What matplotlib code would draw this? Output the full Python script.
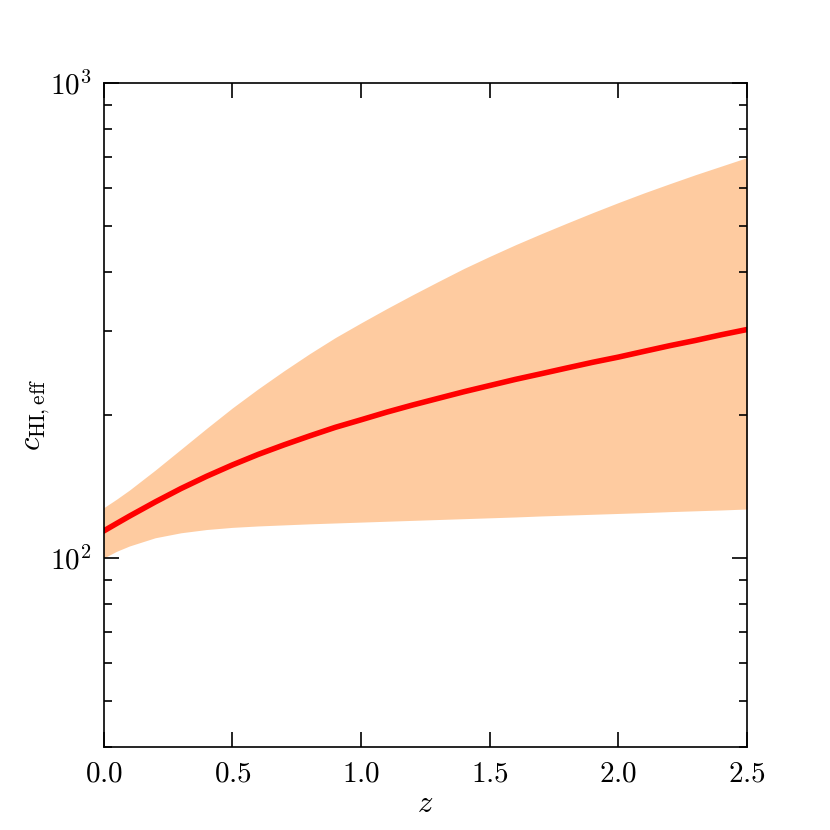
import numpy as np
import matplotlib
matplotlib.use("Agg")
import matplotlib.pyplot as plt
from matplotlib.ticker import FixedLocator, FixedFormatter, NullFormatter, LogLocator, FormatStrFormatter

plt.rcParams['mathtext.fontset'] = 'cm'
plt.rcParams['font.family'] = 'serif'
plt.rcParams['font.serif'] = ['DejaVu Serif']

z = [0.0, 0.05, 0.1, 0.2, 0.3, 0.4, 0.5, 0.6, 0.7, 0.8, 0.9, 1.0, 1.1, 1.2,
     1.3, 1.4, 1.5, 1.6, 1.7, 1.8, 1.9, 2.0, 2.1, 2.2, 2.3, 2.4, 2.5]

c_mid = [114.0, 118.2, 122.5, 131.2, 140.0, 148.6, 157.0, 165.2, 173.0, 180.7, 188.4,
         195.4, 202.8, 209.9, 216.8, 223.9, 230.7, 237.7, 244.3, 251.2, 258.2,
         264.8, 272.3, 279.9, 287.1, 295.1, 302.7]

c_upper = [127.6, 133.0, 139.0, 153.1, 169.4, 187.5, 207.0, 227.0, 247.7, 269.2, 291.1,
           312.6, 335.0, 358.1, 382.0, 407.0, 431.5, 456.5, 481.5, 507.0, 533.3,
           560.0, 587.0, 613.8, 641.2, 668.3, 696.6]

c_lower = [100.0, 103.3, 106.0, 110.3, 113.0, 114.8, 116.0, 116.8, 117.4, 118.0, 118.5,
           119.0, 119.5, 120.0, 120.5, 121.0, 121.5, 122.0, 122.6, 123.1, 123.6,
           124.1, 124.6, 125.2, 125.7, 126.2, 126.8]

x_ticks = [0.0, 0.5, 1.0, 1.5, 2.0, 2.5]
y_major = [100, 1000]
y_major_labels = [r'$10^2$', r'$10^3$']

fig = plt.figure(figsize=(8.3, 8.3), dpi=100)
ax = fig.add_axes([0.125, 0.1, 0.775, 0.8])

ax.fill_between(z, c_lower, c_upper, color='#FECBA0', linewidth=0)
ax.plot(z, c_mid, color='red', linewidth=4)

ax.set_yscale('log')
ax.set_xlim(0, 2.5)
ax.set_ylim(40, 1000)

ax.xaxis.set_major_locator(FixedLocator(x_ticks))
ax.xaxis.set_major_formatter(FormatStrFormatter(r'$%.1f$'))
ax.yaxis.set_major_locator(FixedLocator(y_major))
ax.yaxis.set_major_formatter(FixedFormatter(y_major_labels))
ax.yaxis.set_minor_locator(LogLocator(base=10, subs=np.arange(2, 10)))
ax.yaxis.set_minor_formatter(NullFormatter())

ax.tick_params(which='both', direction='in', top=True, right=True,
               labelsize=21, pad=9, width=1.2)
ax.tick_params(which='major', length=11)
ax.tick_params(which='minor', length=5.5)
for s in ax.spines.values():
    s.set_linewidth(1.2)

ax.set_xlabel(r'$z$', fontsize=22, labelpad=0)
ax.set_ylabel(r'$c_{\rm HI,eff}$', fontsize=22, labelpad=-2)

fig.savefig('out.png', dpi=100, facecolor='white')
